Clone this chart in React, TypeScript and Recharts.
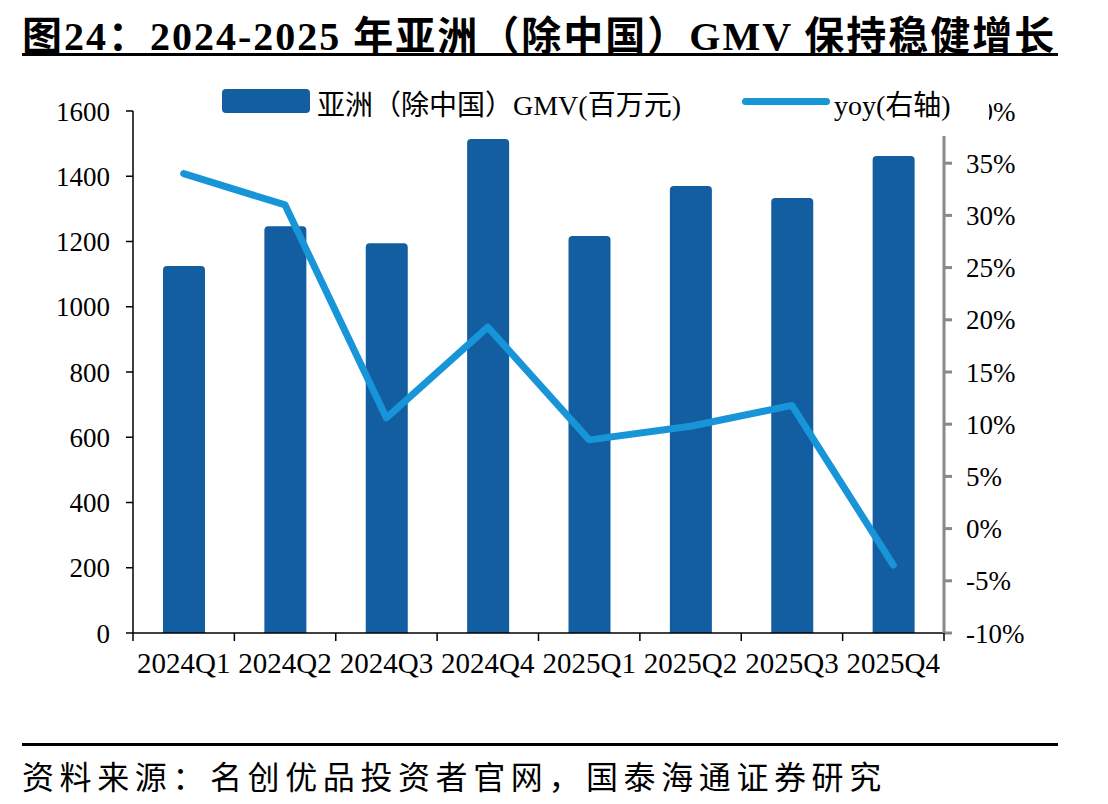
import React from "react"
import {
  ComposedChart,
  Bar,
  Line,
  XAxis,
  YAxis,
  Legend,
} from "recharts"

// 季度
const quarters = [
  "2024Q1", "2024Q2", "2024Q3", "2024Q4",
  "2025Q1", "2025Q2", "2025Q3", "2025Q4",
]

// 亚洲（除中国）GMV，百万元
const gmv = [1125, 1247, 1195, 1514, 1217, 1370, 1333, 1462]

// 同比增速，%
const yoy = [34.0, 31.0, 10.6, 19.3, 8.5, 9.8, 11.8, -3.5]

const leftTicks = [0, 200, 400, 600, 800, 1000, 1200, 1400, 1600]
const rightTicks = [-10, -5, 0, 5, 10, 15, 20, 25, 30, 35, 40]

const data = quarters.map((q, i) => ({ q, gmv: gmv[i], yoy: yoy[i] }))

const BAR = "#135da1"
const LINE = "#1894d8"
const FONT = "'Liberation Serif', 'Times New Roman', 'Noto Sans CJK SC', serif"

// x 轴标签 + 分隔刻度（画在每个类别的左边界）
const QuarterTick = (props: any) => {
  const { x, y, payload, index } = props
  const half = payload.offset || 0
  const last = index === quarters.length - 1
  return (
    <g>
      <line x1={x - half} y1={y - 8} x2={x - half} y2={y} stroke="#000" strokeWidth={1.5} />
      {last && (
        <line x1={x + half} y1={y - 8} x2={x + half} y2={y} stroke="#000" strokeWidth={1.5} />
      )}
      <text x={x} y={y + 32} textAnchor="middle" fontSize={29} fill="#000" fontFamily={FONT}>
        {payload.value}
      </text>
    </g>
  )
}

const LegendBox = () => (
  <div
    style={{
      position: "absolute",
      left: 212,
      top: 82,
      width: 777,
      height: 54,
      background: "#fff",
      fontFamily: FONT,
      fontSize: 28,
      color: "#000",
    }}
  >
    <div style={{ position: "absolute", left: 10, top: 7, width: 88, height: 24, background: BAR, borderRadius: 4 }} />
    <div style={{ position: "absolute", left: 105, top: 1, whiteSpace: "nowrap" }}>
      亚洲（除中国）GMV(百万元)
    </div>
    <div style={{ position: "absolute", left: 530, top: 16, width: 88, height: 7, background: LINE, borderRadius: 4 }} />
    <div style={{ position: "absolute", left: 622, top: 1, whiteSpace: "nowrap" }}>yoy(右轴)</div>
  </div>
)

export default function App() {
  return (
    <div
      style={{
        position: "absolute",
        left: 0,
        top: 0,
        width: 1108,
        height: 804,
        background: "#fff",
        fontFamily: FONT,
      }}
    >
      <div
        style={{
          position: "absolute",
          left: 22,
          top: 4,
          fontSize: 40,
          fontWeight: "bold",
          whiteSpace: "nowrap",
          letterSpacing: 2,
          color: "#000",
        }}
      >
        图24：2024-2025 年亚洲（除中国）GMV 保持稳健增长
      </div>
      <div style={{ position: "absolute", left: 22, top: 53, width: 1036, height: 3, background: "#000" }} />

      <ComposedChart
        width={1108}
        height={804}
        data={data}
        margin={{ top: 111, right: 84, bottom: 131, left: 63 }}
        style={{ position: "absolute", left: 0, top: 0 }}
      >
        <XAxis
          dataKey="q"
          axisLine={{ stroke: "#000", strokeWidth: 1.5 }}
          tickLine={false}
          tick={<QuarterTick />}
          height={40}
          interval={0}
        />
        <YAxis
          yAxisId="left"
          domain={[0, 1600]}
          ticks={leftTicks}
          width={70}
          axisLine={{ stroke: "#000", strokeWidth: 1.5 }}
          tickLine={{ stroke: "#000", strokeWidth: 1.5 }}
          tickSize={7}
          tickMargin={16}
          tick={{ fontSize: 27, fill: "#000", fontFamily: FONT }}
        />
        <YAxis
          yAxisId="right"
          orientation="right"
          domain={[-10, 40]}
          ticks={rightTicks}
          width={80}
          axisLine={{ stroke: "#888", strokeWidth: 3 }}
          tickLine={{ stroke: "#888", strokeWidth: 3 }}
          tickSize={8}
          tickMargin={14}
          tickFormatter={(v: number) => `${v}%`}
          tick={{ fontSize: 27, fill: "#000", fontFamily: FONT }}
        />
        <Bar
          yAxisId="left"
          dataKey="gmv"
          fill={BAR}
          barSize={42}
          radius={[4, 4, 0, 0]}
          isAnimationActive={false}
        />
        <Line
          yAxisId="right"
          dataKey="yoy"
          type="linear"
          stroke={LINE}
          strokeWidth={7}
          strokeLinecap="round"
          strokeLinejoin="round"
          dot={false}
          activeDot={false}
          isAnimationActive={false}
        />
        <Legend content={() => null} />
      </ComposedChart>

      <LegendBox />

      <div style={{ position: "absolute", left: 22, top: 743, width: 1036, height: 3, background: "#000" }} />
      <div
        style={{
          position: "absolute",
          left: 22,
          top: 752,
          fontSize: 32,
          whiteSpace: "nowrap",
          letterSpacing: 5.6,
          color: "#000",
        }}
      >
        资料来源：名创优品投资者官网，国泰海通证券研究
      </div>
    </div>
  )
}
